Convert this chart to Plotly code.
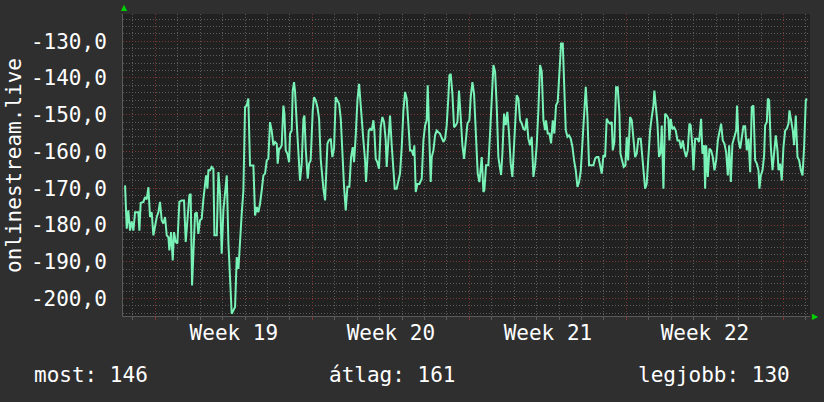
import plotly.graph_objects as go

# hours relative to the start of week 19
hours = [
    -32.4, -30.6, -28.9, -27.1, -25.3, -23.5, -21.7, -18.2, -17.1, -15.7, -12.8, -11.0, -9.2, -7.4, -5.7, -3.9,
    -2.1, -0.3, 1.5, 3.3, 5.0, 6.8, 8.6, 10.4, 12.2, 14.0, 15.0, 16.8, 18.6, 20.0, 21.8, 23.6, 25.7, 28.2, 30.7,
    32.5, 34.3, 36.4, 37.8, 39.3, 40.7, 42.5, 44.3, 46.0, 47.8, 49.6, 51.4, 53.2, 54.3, 55.7, 56.8, 58.5, 60.3,
    62.1, 63.2, 65.7, 67.5, 69.2, 71.0, 72.8, 74.6, 76.4, 78.2, 79.9, 81.7, 83.5, 85.3, 87.1, 88.9,
    92.4, 94.2, 96.0, 97.8, 99.5, 101.3, 103.1, 104.9, 106.7, 108.5, 110.2, 112.0, 113.8, 115.6, 117.4, 119.2,
    120.9, 122.7, 124.5, 126.3, 128.1, 129.9, 130.9, 132.4, 133.4, 135.2, 137.0, 138.1, 139.5, 141.3, 143.1,
    144.1, 145.9, 147.0, 148.4, 149.5, 151.3, 153.0, 154.8, 156.6, 158.4, 159.5, 160.9, 163.0, 164.5, 166.2,
    168.4, 169.8, 171.6, 173.4, 175.2, 176.9, 178.7, 179.8, 181.6, 182.7, 184.1, 185.5, 187.7, 189.4, 191.2,
    193.0, 194.8, 196.6, 198.4, 200.1, 201.9, 203.7, 205.5, 207.6, 209.4, 211.2, 212.6, 214.4, 216.2, 218.0,
    220.8, 222.6, 224.4, 225.4, 226.8, 228.3, 229.7, 231.5, 233.3, 234.3, 235.8, 237.5, 239.3, 241.1, 242.9,
    244.7, 246.5, 247.5, 249.3, 251.1, 252.9, 254.7, 256.1, 258.2, 260.0, 261.8, 263.6, 265.4, 267.2, 268.9,
    270.7, 272.5, 274.3, 276.1, 277.1, 278.6, 280.4, 282.5, 285.0, 286.8, 288.6, 290.3, 291.4, 292.8, 294.6,
    295.7, 297.5, 299.3, 301.0, 304.6, 306.4, 308.2, 310.0, 311.7, 313.5, 314.6, 316.0, 317.8, 319.6, 321.4,
    323.2, 324.9, 326.7, 328.5, 330.3, 332.1, 333.9, 336.0, 337.4, 339.2, 341.0, 343.1, 344.9, 346.7,
    349.2, 351.0, 352.0, 353.8, 356.3, 358.1, 359.9, 361.7, 363.5, 365.2, 367.0, 368.8, 369.9, 371.3, 373.1,
    374.9, 376.6, 378.4, 380.2, 382.0, 383.1, 384.9, 386.6, 388.4, 390.2, 392.0, 393.8, 395.6, 397.3, 399.1,
    400.9, 402.7, 404.5, 406.3, 408.0, 409.8, 411.6, 413.4, 415.2, 417.0, 418.0, 419.8, 421.6, 423.4, 425.2,
    426.9, 428.7, 430.5, 432.3, 434.1, 435.9, 437.3, 439.1, 440.9, 442.6, 444.4, 446.2, 448.0, 449.8, 451.6,
    453.3, 455.1, 456.9, 458.7, 460.5, 462.3, 464.0, 465.8, 468.7, 470.5, 472.2, 474.0, 475.8, 477.6, 479.4,
    481.2, 482.9, 484.7, 486.5, 488.3, 489.4, 491.1, 492.9, 494.7, 496.5, 497.6, 499.3, 501.1, 502.9, 504.3,
    505.8, 507.9, 509.7, 511.5, 513.3, 515.0, 516.8, 519.3, 521.1, 522.5, 524.0, 525.7, 527.5, 529.3, 531.1,
    532.9, 533.9, 535.4, 537.2, 538.9, 540.7, 541.8, 543.6, 545.4, 547.2, 548.9, 550.0, 551.4, 553.2, 555.0,
    556.8, 558.6, 560.7, 562.5, 564.3, 566.0, 567.8, 569.6, 571.4, 572.8, 574.6, 575.7, 577.5, 580.0, 581.7,
    583.9, 585.3, 587.1,
    588.2, 589.3, 591.1, 592.8, 594.6, 596.4, 598.2, 600.0, 601.8, 603.5, 605.3, 607.1, 608.9, 610.7, 612.5,
    613.9, 615.7, 617.4, 619.6, 621.4, 622.4, 623.9, 625.7, 627.4, 629.2, 631.0, 632.8, 634.6, 636.4, 638.1,
    639.9, 641.7, 643.5, 645.3, 646.3, 647.8, 649.6, 651.3, 652.4, 654.2, 655.3, 656.7, 658.5, 660.3, 662.0,
    663.8, 665.6, 666.7, 668.5, 670.2, 672.0, 673.8, 675.6, 677.4, 678.4, 680.2, 682.0, 683.4, 685.2, 687.0,
    688.8, 690.6, 692.4, 694.1, 695.9, 697.0,
]

values = [
    -169.2, -181.0, -176.0, -181.5, -179.0, -181.5, -176.5, -176.5, -181.5, -174.0, -173.7, -172.4, -173.0, -169.7, -177.8, -176.5,
    -182.8, -179.6, -177.8, -176.5, -173.7, -178.7, -179.6, -177.8, -182.8, -183.3, -186.9, -181.9, -189.6, -181.9, -184.6, -185.0, -173.7, -173.3, -173.3,
    -184.6, -177.8, -171.9, -171.5, -196.4, -187.8, -176.9, -176.5, -182.4, -178.7, -178.3, -173.0, -169.7, -166.5, -170.1, -165.1, -165.1, -164.2,
    -164.7, -182.8, -182.8, -165.6, -171.5, -187.8, -176.0, -171.5, -166.5, -185.0, -196.9, -204.1, -203.2, -202.3, -188.7, -191.9,
    -176.9, -170.6, -147.9, -147.5, -145.6, -163.8, -163.8, -163.8, -177.4, -175.1, -176.5, -174.2, -170.6, -166.5, -166.0, -162.4,
    -162.0, -152.0, -154.3, -158.3, -157.4, -157.9, -163.3, -159.2, -159.2, -158.3, -147.5, -149.7, -159.7, -160.6, -162.9,
    -155.2, -154.3, -143.4, -141.1, -143.8, -152.4, -162.0, -167.9, -163.3, -151.1, -150.2, -159.2, -167.4, -163.3, -162.4,
    -148.8, -145.2, -146.1, -147.9, -151.1, -162.0, -167.4, -170.1, -173.3, -167.9, -157.9, -157.0, -156.5, -161.5, -159.2,
    -145.2, -146.1, -147.0, -151.1, -160.6, -169.6, -176.0, -169.6, -169.6, -161.5, -158.8, -162.9, -155.6, -146.1, -141.6,
    -152.4, -157.0, -162.4, -168.3, -162.4, -154.3, -153.8, -154.3, -151.5, -154.3, -162.0, -162.9, -164.7, -153.4, -150.6,
    -152.0, -157.0, -164.2, -157.0, -150.2, -158.3, -165.1, -170.1, -170.1, -167.9, -166.0, -158.8, -148.8, -143.8, -145.6,
    -152.4, -159.7, -159.7, -161.1, -158.3, -171.0, -168.8, -168.8, -167.4, -157.0, -152.9, -151.5, -142.0, -151.5, -168.3,
    -161.5, -159.7, -155.6, -154.3, -155.2, -156.1, -157.4, -156.5, -152.9, -145.2, -139.3, -138.9, -144.3, -153.4, -152.9,
    -152.0, -143.4, -150.6, -158.3, -162.0, -157.4, -152.4, -151.5, -145.2, -141.1, -144.3, -156.1, -166.0, -168.3,
    -161.5, -171.0, -170.5, -163.7, -163.7, -155.1, -147.0, -136.5, -138.3, -147.4, -161.5, -165.5, -166.4, -160.6, -149.7,
    -152.8, -149.2, -155.1, -163.3, -166.9, -160.6, -154.2, -144.7, -145.6, -151.5, -152.4, -153.8, -154.2, -151.0, -156.5,
    -158.3, -156.0, -166.9, -163.7, -158.3, -148.8, -136.5, -138.3, -151.5, -154.2, -151.5, -155.1, -155.1, -157.8, -151.5,
    -155.1, -147.4, -146.5, -138.3, -130.6, -130.6, -139.7, -154.2, -156.0, -155.6, -156.5, -158.7, -162.4, -165.1, -169.6,
    -168.3, -165.5, -157.4, -150.1, -142.4, -150.6, -163.7, -163.7, -163.7, -161.9, -161.5, -161.5, -163.7, -166.0, -161.0,
    -161.5, -151.1, -152.0, -152.4, -152.0, -159.7, -157.4, -142.5, -142.5, -149.7, -160.6, -162.4, -164.2, -163.8, -156.1,
    -162.4, -150.6, -151.5, -157.0, -161.5, -160.6, -156.5, -156.5, -161.1, -166.0, -170.1, -168.8, -161.1, -154.3, -150.6,
    -147.5, -143.4, -148.8, -152.4, -161.5, -160.2, -152.9, -170.1, -149.7, -150.2, -151.1, -157.0, -151.1, -154.0, -153.4,
    -154.3, -157.0, -157.0, -159.2, -157.0, -159.7, -161.5, -159.7, -152.4, -152.9, -158.8, -165.1, -156.5, -156.5, -157.4,
    -151.1, -160.6, -158.3,
    -170.1, -158.3, -166.9, -159.2, -159.7, -161.5, -165.1, -162.4, -157.0, -154.7, -152.4, -157.0, -157.9, -160.2, -166.5,
    -158.3, -168.3, -157.9, -155.6, -154.3, -147.5, -157.0, -159.2, -156.5, -153.1, -153.1, -159.7, -156.5, -165.6, -147.9,
    -147.5, -162.4, -163.3, -165.1, -170.1, -166.5, -165.1, -161.1, -152.9, -152.0, -145.6, -146.1, -158.8, -165.1, -159.7,
    -155.6, -159.7, -165.1, -163.3, -167.9, -158.8, -154.3, -153.8, -152.4, -148.8, -151.5, -154.3, -158.3, -150.2, -161.5,
    -162.4, -165.1, -166.5, -158.8, -146.1, -145.6,
]

y_title = "onlinestream.live"
y_ticks = [-200, -190, -180, -170, -160, -150, -140, -130]
y_tick_labels = ["-200,0", "-190,0", "-180,0", "-170,0", "-160,0", "-150,0", "-140,0", "-130,0"]
week_starts = [0, 168, 336, 504, 672]
week_centers = [84, 252, 420, 588]
week_labels = ["Week 19", "Week 20", "Week 21", "Week 22"]
stats_text = ["most: 146", "átlag: 161", "legjobb: 130"]

x_range = [-34.6, 700.4]
y_range = [-204.73, -122.6]

FONT = "DejaVu Sans Mono"
BG = "#2f2f2f"
PLOT_BG = "#212121"
MINOR = "#5c5c5c"
MAJOR = "#7d3636"
LINE = "#78f2b6"

fig = go.Figure()
fig.add_trace(go.Scatter(x=hours, y=values, mode="lines",
                         line=dict(color=LINE, width=2), showlegend=False, hoverinfo="skip"))

fig.update_layout(
    width=824, height=402,
    margin=dict(l=123, r=14, t=14, b=86),
    paper_bgcolor=BG, plot_bgcolor=PLOT_BG,
    font=dict(family=FONT, size=21, color="#ffffff"),
    xaxis=dict(
        range=x_range, tickvals=week_starts, showticklabels=False,
        showgrid=True, gridcolor=MAJOR, griddash="1px,2px", gridwidth=1,
        ticks="outside", ticklen=3, tickcolor=MAJOR,
        minor=dict(tick0=0, dtick=24, showgrid=True, gridcolor=MINOR, griddash="1px,2px",
                   ticks="outside", ticklen=3, tickcolor=MINOR),
        showline=True, linecolor="#5a5a5a", linewidth=1,
        zeroline=False, fixedrange=True, layer="below traces",
    ),
    xaxis2=dict(
        range=x_range, overlaying="x", anchor="y", side="bottom",
        tickvals=week_centers, ticktext=week_labels, showgrid=False, zeroline=False,
        ticks="", ticklabelstandoff=2, tickfont=dict(family=FONT, size=21, color="#ffffff"),
        fixedrange=True,
    ),
    yaxis=dict(
        range=y_range, tickvals=y_ticks, ticktext=y_tick_labels,
        showgrid=True, gridcolor=MAJOR, griddash="1px,2px", gridwidth=1,
        minor=dict(tick0=0, dtick=2, showgrid=True, gridcolor=MINOR, griddash="1px,2px"),
        ticks="", ticklabelstandoff=11,
        tickfont=dict(family=FONT, size=21, color="#ffffff"),
        showline=True, linecolor="#5a5a5a", linewidth=1,
        zeroline=False, fixedrange=True,
    ),
)

# invisible trace to activate xaxis2
fig.add_trace(go.Scatter(x=[x_range[0]], y=[y_range[0]], xaxis="x2", yaxis="y",
                         mode="markers", marker=dict(opacity=0), showlegend=False, hoverinfo="skip"))

fig.add_annotation(text=y_title, textangle=-90, xref="paper", yref="paper",
                   x=-0.1587, y=0.5, xanchor="center", yanchor="middle", showarrow=False,
                   font=dict(family=FONT, size=21, color="#ffffff"))

stat_pos = [(-0.133, "left"), (0.3916, "center"), (0.9738, "right")]
for txt, (px, anchor) in zip(stats_text, stat_pos):
    fig.add_annotation(text=txt, xref="paper", yref="paper", x=px, y=-0.195,
                       xanchor=anchor, yanchor="middle", showarrow=False,
                       font=dict(family=FONT, size=21, color="#ffffff"))

# axis arrows
fig.add_annotation(text="▲", xref="paper", yref="paper", x=0.002, y=1.0, xanchor="center",
                   yanchor="bottom", showarrow=False, font=dict(family="DejaVu Sans", size=8, color="#00d000"))
fig.add_annotation(text="▶", xref="paper", yref="paper", x=1.0, y=0.0, xanchor="left",
                   yanchor="middle", showarrow=False, font=dict(family="DejaVu Sans", size=8, color="#00d000"))

fig.write_html("out.html")
